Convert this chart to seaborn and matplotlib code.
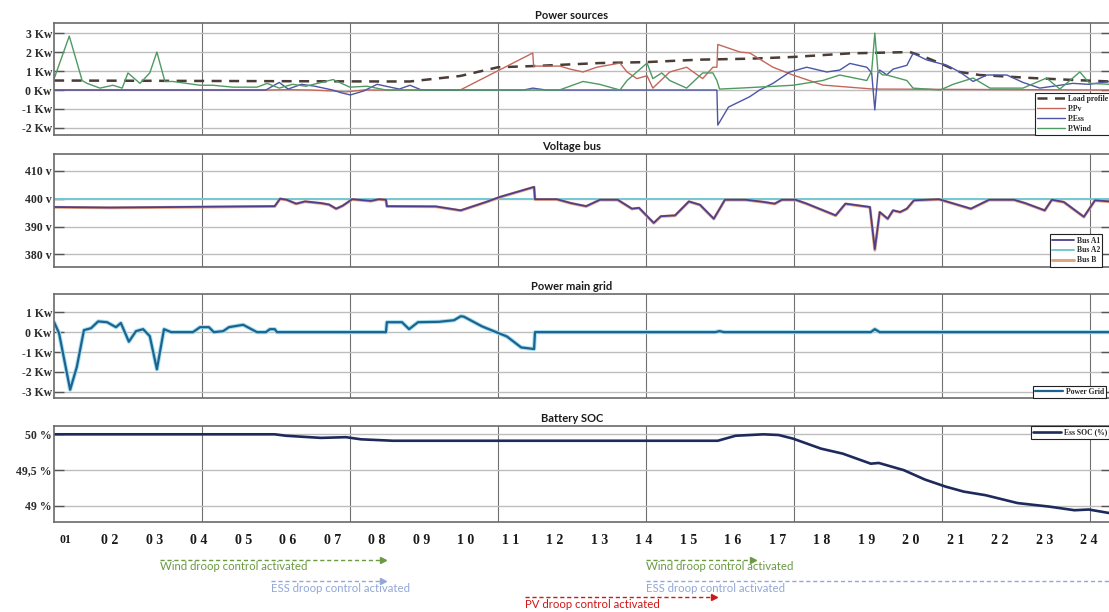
import matplotlib
matplotlib.use("Agg")
import matplotlib.pyplot as plt
import matplotlib.transforms as mtransforms
from matplotlib.lines import Line2D
import seaborn as sns

# ---------------- data (hours of the day) ----------------
hour_ticks = list(range(1, 25))
hour_labels = ["01", "0 2", "0 3", "0 4", "0 5", "0 6", "0 7", "0 8", "0 9", "1 0",
               "1 1", "1 2", "1 3", "1 4", "1 5", "1 6", "1 7", "1 8", "1 9", "2 0",
               "2 1", "2 2", "2 3", "2 4"]
vgrid_h = [4.06, 7.39, 10.72, 14.04, 17.37, 20.70, 24.02]

# Power sources (kW)
load_h = [0.74, 8.07, 8.74, 9.87, 10.72, 11.5, 13.0, 14.05, 15.26, 16.38, 17.35, 18.63,
          19.98, 20.3, 20.65, 21.1, 21.55, 22.74, 23.64, 24.47]
load_kw = [0.5, 0.45, 0.45, 0.74, 1.2, 1.26, 1.42, 1.47, 1.6, 1.65, 1.74, 1.93,
           2.0, 1.75, 1.42, 0.95, 0.79, 0.63, 0.53, 0.45]

pv_h = [0.74, 5.5, 6.0, 6.5, 7.0, 7.3, 7.7, 8.2, 9.87, 11.50, 11.52, 12.11, 12.34, 12.63,
        12.94, 13.46, 13.62, 13.84, 14.07, 14.2, 14.58, 14.96, 15.32, 15.55, 15.64, 15.66,
        16.16, 16.38, 16.9, 17.35, 18.02, 19.15, 24.47]
pv_kw = [0, 0, 0.02, 0, -0.05, -0.1, 0, 0, 0, 1.95, 1.26, 1.26, 1.1, 0.95,
         1.2, 1.42, 0.95, 0.6, 0.75, 0.1, 0.95, 1.2, 0.6, 1.2, 1.2, 2.4,
         2.0, 1.95, 1.2, 0.79, 0.26, 0.05, 0.0]

ess_h = [0.74, 5.5, 5.8, 6.0, 6.3, 6.6, 7.0, 7.2, 7.4, 7.7, 8.0, 8.5, 8.74, 9.0, 9.5,
         11.3, 11.5, 11.8, 12.0, 15.64, 15.66, 15.9, 16.38, 16.6, 16.9, 17.28, 17.66,
         18.11, 18.4, 18.63, 19.01, 19.12, 19.19, 19.26, 19.3, 19.46, 19.6, 19.91, 20.05,
         20.36, 20.81, 21.1, 21.4, 21.71, 22.16, 22.52, 22.9, 23.2, 23.64, 24.0, 24.47]
ess_kw = [0, 0, 0.4, 0.05, 0.3, 0.2, 0, -0.15, -0.26, -0.05, 0.3, 0.05, 0.25, 0, 0,
          0, 0.1, 0, 0, 0, -1.85, -0.9, -0.35, 0, 0.35, 0.95, 1.2,
          0.95, 1.05, 1.4, 1.2, 0.9, -1.05, 0.9, 1.05, 0.8, 1.1, 1.3, 1.93,
          1.58, 1.3, 0.95, 0.45, 0.79, 0.79, 0.4, 0.1, 0.2, 0.35, 0.3, 0.45]

wind_h = [0.74, 1.08, 1.37, 1.48, 1.77, 2.06, 2.27, 2.40, 2.67, 2.89, 3.05, 3.23, 3.41,
          4.02, 4.31, 4.76, 5.30, 5.53, 5.8, 6.1, 6.4, 7.01, 7.39, 7.77, 8.2, 8.5, 12.1,
          12.63, 13.0, 13.46, 13.62, 13.84, 14.07, 14.2, 14.4, 14.58, 14.96, 15.32, 15.55,
          15.64, 15.7, 16.16, 17.35, 18.02, 18.4, 19.01, 19.12, 19.19, 19.26, 19.36, 19.46,
          19.91, 20.05, 20.66, 20.95, 21.4, 21.78, 22.52, 23.05, 23.35, 23.8, 24.02, 24.47]
wind_kw = [0.6, 2.84, 0.5, 0.35, 0.1, 0.25, 0.1, 0.9, 0.35, 0.9, 2.0, 0.45, 0.45,
           0.25, 0.25, 0.15, 0.15, 0.35, 0.1, 0.3, 0.2, 0.55, 0.15, 0.2, 0, 0, 0,
           0.45, 0.3, 0, 0.5, 0.95, 1.42, 0.6, 0.9, 0.5, 0.1, 0.9, 0.9,
           0.5, 0.05, 0.1, 0.25, 0.5, 0.79, 0.5, 1.0, 3.0, 1.0, 0.8, 0.79,
           0.5, 0.1, 0, 0.3, 0.63, 0.1, 0.1, 0.63, 0.05, 0.95, 0.35, 0.3]

# Voltage bus (V)
bus_h = [0.74, 2.0, 5.70, 5.82, 5.97, 6.18, 6.38, 6.74, 6.92, 7.08, 7.23, 7.44, 7.86, 8.04,
         8.20, 8.22, 9.32, 9.88, 10.45, 10.76, 11.53, 11.55, 12.04, 12.36, 12.7, 13.01, 13.41,
         13.73, 13.89, 14.22, 14.38, 14.7, 15.01, 15.26, 15.57, 15.82, 16.29, 16.7, 16.94,
         17.1, 17.41, 17.66, 18.31, 18.53, 18.94, 19.08, 19.19, 19.3, 19.48, 19.6, 19.76,
         19.91, 20.07, 20.63, 20.97, 21.35, 21.76, 22.32, 22.57, 23.01, 23.17, 23.44, 23.89,
         24.14, 24.47]
bus_a_v = [397.0, 396.8, 397.3, 400.0, 399.6, 398.2, 399.0, 398.4, 397.9, 396.4, 397.5, 399.8,
           399.2, 399.8, 399.6, 397.3, 397.2, 395.8, 398.8, 400.6, 404.2, 399.8, 399.8, 398.4,
           397.3, 399.6, 399.6, 396.4, 396.7, 391.3, 393.7, 394.0, 399.0, 397.8, 392.8, 399.6,
           399.6, 398.8, 398.2, 399.6, 399.6, 398.2, 394.0, 398.2, 397.3, 397.0, 381.9, 395.2,
           392.8, 395.8, 395.2, 396.4, 399.4, 399.8, 398.2, 396.4, 399.6, 399.6, 398.4, 395.8,
           399.6, 398.8, 393.5, 399.4, 399.0]
bus_b_v = [396.9, 396.7, 397.2, 399.9, 399.5, 398.1, 398.9, 398.3, 397.8, 396.3, 397.4, 399.7,
           399.1, 399.7, 399.5, 397.2, 397.1, 395.7, 398.7, 400.5, 404.1, 399.7, 399.7, 398.3,
           397.2, 399.5, 399.5, 396.3, 396.6, 391.2, 393.6, 393.9, 398.9, 397.7, 392.7, 399.5,
           399.5, 398.7, 398.1, 399.5, 399.5, 398.1, 393.9, 398.1, 397.2, 396.9, 381.5, 395.1,
           392.7, 395.7, 395.1, 396.3, 399.3, 399.7, 398.1, 396.3, 399.5, 399.5, 398.3, 395.7,
           399.5, 398.7, 393.4, 399.3, 398.9]
bus_ref_h = [0.74, 24.47]
bus_ref_v = [400.0, 400.0]

# Power main grid (kW)
grid_h = [0.74, 0.85, 1.10, 1.25, 1.41, 1.57, 1.73, 1.93, 2.13, 2.24, 2.42, 2.58, 2.74, 2.89,
          3.05, 3.21, 3.37, 3.86, 4.02, 4.22, 4.33, 4.54, 4.67, 4.99, 5.30, 5.50, 5.59, 5.70,
          5.75, 8.20, 8.22, 8.56, 8.72, 8.92, 9.39, 9.73, 9.88, 9.95, 10.36, 10.92, 11.24,
          11.53, 11.55, 15.6, 15.7, 15.8, 19.1, 19.19, 19.3, 24.47]
grid_kw = [0.5, -0.05, -2.9, -1.75, 0.1, 0.2, 0.54, 0.5, 0.25, 0.46, -0.48, 0.05, 0.15, -0.2,
           -1.87, 0.15, 0.0, 0.0, 0.25, 0.25, 0.0, 0.05, 0.25, 0.37, 0.0, 0.0, 0.15, 0.15,
           0.0, 0.0, 0.5, 0.5, 0.15, 0.5, 0.52, 0.6, 0.8, 0.78, 0.29, -0.22, -0.77,
           -0.85, 0.0, 0.0, 0.05, 0.0, 0.0, 0.15, 0.0, 0.0]

# Battery SOC (%)
soc_h = [0.74, 5.70, 5.95, 6.74, 7.30, 7.64, 8.36, 15.66, 16.06, 16.69, 17.03, 17.35, 17.98,
         18.47, 19.1, 19.28, 19.84, 20.31, 20.78, 21.19, 21.68, 22.4, 23.12, 23.68, 24.0, 24.47]
soc_pct = [50.0, 50.0, 49.98, 49.95, 49.96, 49.93, 49.91, 49.91, 49.98, 50.0, 49.99, 49.94,
           49.8, 49.73, 49.59, 49.6, 49.5, 49.37, 49.27, 49.2, 49.15, 49.04, 48.99, 48.94,
           48.95, 48.9]

# Control-phase annotations
ann_labels = ["Wind droop control activated", "ESS droop control activated",
              "Wind droop control activated", "ESS droop control activated",
              "PV droop control activated"]
ann_start_h = [3.12, 5.62, 14.04, 14.04, 11.32]
ann_end_h = [8.13, 8.13, 16.45, 24.8, 15.57]

# ---------------- figure ----------------
sns.set_theme(style="white")
plt.rcParams['font.family'] = ['DejaVu Sans']
plt.rcParams['axes.unicode_minus'] = False

FW, FH = 1109, 612
fig = plt.figure(figsize=(FW / 100, FH / 100), dpi=100)
AX_L, AX_R = 54, 1111


def add_ax(top, bottom):
    return fig.add_axes([AX_L / FW, 1 - bottom / FH, (AX_R - AX_L) / FW, (bottom - top) / FH])


ax1 = add_ax(23, 135)
ax2 = add_ax(154, 266.7)
ax3 = add_ax(294, 398.3)
ax4 = add_ax(426, 521.7)
axes = [ax1, ax2, ax3, ax4]

tick_font = dict(family='Liberation Serif', weight='bold', size=8.5)
leg_font = dict(family='Liberation Serif', weight='bold', size=5.5)

# Power sources
sns.lineplot(x=load_h, y=load_kw, ax=ax1, color='#4a3c36', lw=1.8, linestyle=(0, (4, 3)),
             label='Load profile', estimator=None, sort=False)
sns.lineplot(x=pv_h, y=pv_kw, ax=ax1, color='#c4675a', lw=1.0, label='P.Pv',
             estimator=None, sort=False)
sns.lineplot(x=ess_h, y=ess_kw, ax=ax1, color='#4c55a6', lw=1.0, label='P.Ess',
             estimator=None, sort=False)
sns.lineplot(x=wind_h, y=wind_kw, ax=ax1, color='#4f9a62', lw=1.0, label='P.Wind',
             estimator=None, sort=False)
ax1.set_ylim(-2.37, 3.53)
ax1.set_yticks([3, 2, 1, 0, -1, -2])
ax1.set_yticklabels(['3 Kw', '2 Kw', '1 Kw', '0 Kw', '-1 Kw', '-2 Kw'])

# Voltage bus
sns.lineplot(x=bus_ref_h, y=bus_ref_v, ax=ax2, color='#74c9d4', lw=1.4, label='Bus A2',
             estimator=None, sort=False)
sns.lineplot(x=bus_h, y=bus_b_v, ax=ax2, color='#e3a27e', lw=2.1, label='Bus B',
             estimator=None, sort=False)
sns.lineplot(x=bus_h, y=bus_a_v, ax=ax2, color='#4d3f8e', lw=1.3, label='Bus A1',
             estimator=None, sort=False)
ax2.set_ylim(375.6, 416.0)
ax2.set_yticks([410, 400, 390, 380])
ax2.set_yticklabels(['410 v', '400 v', '390 v', '380 v'])

# Power main grid
sns.lineplot(x=grid_h, y=grid_kw, ax=ax3, color='#9fe0ee', lw=3.0, estimator=None,
             sort=False, legend=False)
sns.lineplot(x=grid_h, y=grid_kw, ax=ax3, color='#1f6290', lw=1.6, label='Power Grid',
             estimator=None, sort=False)
ax3.set_ylim(-3.33, 1.92)
ax3.set_yticks([1, 0, -1, -2, -3])
ax3.set_yticklabels(['1 Kw', '0 Kw', '-1 Kw', '-2 Kw', '-3 Kw'])

# Battery SOC
sns.lineplot(x=soc_h, y=soc_pct, ax=ax4, color='#1f2a5c', lw=1.9, label='Ess SOC (%)',
             estimator=None, sort=False)
ax4.set_ylim(48.78, 50.116)
ax4.set_yticks([50, 49.5, 49])
ax4.set_yticklabels(['50 %', '49,5 %', '49 %'])

titles = ['Power sources', 'Voltage bus', 'Power main grid', 'Battery SOC']
for ax, title in zip(axes, titles):
    ax.set_xlim(0.737, 24.5)
    ax.set_xticks(vgrid_h)
    ax.set_xticklabels([])
    ax.set_xlabel('')
    ax.set_ylabel('')
    ax.grid(axis='x', color='#707070', lw=0.8)
    ax.grid(axis='y', color='#bdbdbd', lw=1.0)
    ax.set_axisbelow(True)
    ax.tick_params(axis='x', which='major', length=0)
    ax.tick_params(axis='y', direction='in', length=7, width=1, color='#555555', pad=1.5,
                   left=True, right=True)
    for lab in ax.get_yticklabels():
        lab.set_fontfamily(tick_font['family'])
        lab.set_fontweight('bold')
        lab.set_fontsize(tick_font['size'])
        lab.set_color('#2a2a2a')
    for s in ax.spines.values():
        s.set_color('#6a6a6a')
        s.set_linewidth(1.2)
    ax.set_title(title, fontfamily='Lato', fontweight='bold', fontsize=8,
                 x=(572 - AX_L) / (AX_R - AX_L), pad=3, color='#1a1a1a')

# hour labels under bottom panel
ax4.set_xticks(hour_ticks, minor=True)
ax4.set_xticklabels(hour_labels, minor=True)
ax4.tick_params(axis='x', which='minor', length=0, pad=9)
for i, lab in enumerate(ax4.get_xticklabels(minor=True)):
    lab.set_fontfamily('Liberation Serif')
    lab.set_fontweight('bold')
    lab.set_fontsize(8.5 if i == 0 else 10)
    lab.set_color('#1a1a1a')


def place_legend(ax, left_px, loc, yanchor, handles=None, labels=None, hl=3.6):
    kw = {}
    if handles is not None:
        kw = dict(handles=handles, labels=labels)
    leg = ax.legend(loc=loc, bbox_to_anchor=((left_px - AX_L) / (AX_R - AX_L), yanchor),
                    borderaxespad=0, prop=leg_font, handlelength=hl, handletextpad=0.4,
                    labelspacing=0.25, borderpad=0.3, fancybox=False, frameon=True,
                    framealpha=1, **kw)
    leg.get_frame().set_edgecolor('#222222')
    leg.get_frame().set_linewidth(0.8)
    return leg


place_legend(ax1, 1035, 'lower left', 0.0)
h2, l2 = ax2.get_legend_handles_labels()
order = [l2.index('Bus A1'), l2.index('Bus A2'), l2.index('Bus B')]
place_legend(ax2, 1050, 'lower left', 0.0, [h2[i] for i in order], [l2[i] for i in order],
             hl=2.8)
place_legend(ax3, 1033, 'lower left', 0.0)
place_legend(ax4, 1031, 'upper left', 1.0)

# control-phase annotations
trans = mtransforms.blended_transform_factory(ax4.transData, fig.transFigure)
ann_colors = ['#6b9a43', '#93a8d8', '#6b9a43', '#93a8d8', '#d01818']
arrow_y = [560, 581, 560, 581, 597]
text_y = [567, 588, 567, 588, 604]
for lab, x0, x1, c, ay, ty in zip(ann_labels, ann_start_h, ann_end_h, ann_colors, arrow_y, text_y):
    fig.add_artist(Line2D([x0, x1], [1 - ay / FH, 1 - ay / FH], transform=trans, color=c,
                          lw=1.0, linestyle=(0, (3, 2))))
    fig.add_artist(Line2D([x1], [1 - ay / FH], transform=trans, color=c, marker='>',
                          markersize=4, linestyle='none'))
    fig.text(x0, 1 - ty / FH, lab, transform=trans, color=c, fontfamily='Lato',
             fontsize=8.2, ha='left', va='center')

fig.savefig('out.png', dpi=100)
